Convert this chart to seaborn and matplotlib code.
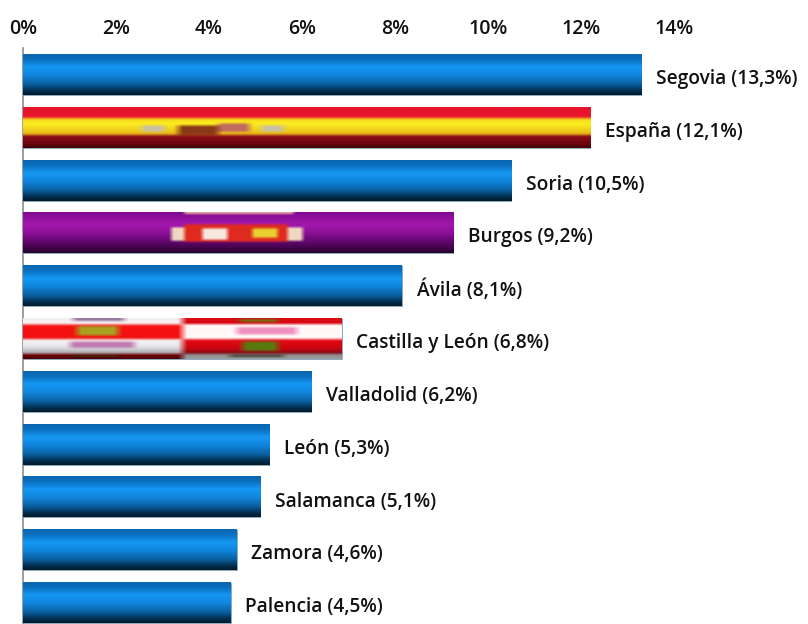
import numpy as np
import pandas as pd
import matplotlib
matplotlib.use('Agg')
import matplotlib.pyplot as plt
from matplotlib.colors import to_rgb
import seaborn as sns

# Data
regions = ['Segovia', 'España', 'Soria', 'Burgos', 'Ávila', 'Castilla y León',
           'Valladolid', 'León', 'Salamanca', 'Zamora', 'Palencia']
values = [13.3, 12.2, 10.5, 9.25, 8.15, 6.85, 6.2, 5.3, 5.1, 4.6, 4.47]
value_labels = ['13,3%', '12,1%', '10,5%', '9,2%', '8,1%', '6,8%',
                '6,2%', '5,3%', '5,1%', '4,6%', '4,5%']
x_ticks = [0, 2, 4, 6, 8, 10, 12, 14]

# Gradients, (position down the bar, colour)
BLUE = [(0, '#0a66ae'), (0.14, '#0b70bf'), (0.32, '#1598f4'), (0.52, '#1085dc'),
        (0.74, '#0a5f9e'), (0.9, '#032d4c'), (1, '#021a2c')]
SPAIN = [(0, '#e8142c'), (0.25, '#e8142c'), (0.29, '#f6d21a'), (0.4, '#fdf020'),
         (0.66, '#e8b818'), (0.7, '#8f0d18'), (0.9, '#6d0610'), (1, '#3c0208')]
PURPLE = [(0, '#7d0a8e'), (0.3, '#a418ae'), (0.5, '#8d0f98'), (0.75, '#5c0668'),
          (1, '#26022c')]
CYL_LEFT = [(0, '#f4f0f0'), (0.15, '#f8f0f0'), (0.17, '#f81010'), (0.5, '#f01010'),
            (0.53, '#f8f8f8'), (0.7, '#e4e4e8'), (0.86, '#a8a8ac'), (0.88, '#7a0008'),
            (1, '#4a0006')]
CYL_RIGHT = [(0, '#d80812'), (0.14, '#d80812'), (0.16, '#fff6f6'), (0.5, '#fffafa'),
             (0.53, '#e40a14'), (0.75, '#c80610'), (0.86, '#800810'), (0.88, '#8c8888'),
             (1, '#a0a0a0')]


def gradient(stops, rows=40):
    pos = [s[0] for s in stops]
    rgb = np.array([to_rgb(s[1]) for s in stops])
    y = (np.arange(rows) + 0.5) / rows
    return np.stack([np.interp(y, pos, rgb[:, i]) for i in range(3)], axis=1)


def paint(img, x0, x1, y0, y1, color):
    h, w = img.shape[:2]
    img[int(y0 * h):int(y1 * h), int(x0 * w):int(x1 * w)] = to_rgb(color)


def soften(img, kx=9, ky=3):
    # the flags look blurred in the original, box blur is enough
    out = img.copy()
    for c in range(3):
        out[:, :, c] = np.apply_along_axis(
            lambda r: np.convolve(np.pad(r, kx, mode='edge'), np.ones(kx) / kx, 'same')[kx:-kx], 1, out[:, :, c])
        out[:, :, c] = np.apply_along_axis(
            lambda r: np.convolve(np.pad(r, ky, mode='edge'), np.ones(ky) / ky, 'same')[ky:-ky], 0, out[:, :, c])
    return out


def bar_image(region, width_px):
    cols = int(width_px)
    if region == 'Castilla y León':
        half = int(cols * 0.5)
        left = gradient(CYL_LEFT)
        right = gradient(CYL_RIGHT)
        img = np.concatenate([np.repeat(left[:, None], half, axis=1),
                              np.repeat(right[:, None], cols - half, axis=1)], axis=1)
        # castles and lions
        paint(img, 0.17, 0.30, 0.22, 0.44, '#a8a020')
        paint(img, 0.69, 0.80, 0.58, 0.80, '#5a7a10')
        paint(img, 0.16, 0.32, 0.02, 0.08, '#9a7ca0')
        paint(img, 0.68, 0.80, 0.03, 0.10, '#7a6a10')
        paint(img, 0.15, 0.35, 0.58, 0.74, '#c07ab0')
        paint(img, 0.67, 0.86, 0.24, 0.42, '#f090c0')
        paint(img, 0.15, 0.30, 0.90, 0.96, '#3a2a08')
        paint(img, 0.65, 0.82, 0.92, 0.97, '#3a3a30')
        return soften(img)
    stops = {'España': SPAIN, 'Burgos': PURPLE}.get(region, BLUE)
    img = np.repeat(gradient(stops)[:, None], cols, axis=1)
    if region == 'España':
        paint(img, 0.21, 0.25, 0.46, 0.60, '#c8c0a8')
        paint(img, 0.275, 0.345, 0.46, 0.68, '#8a3a18')
        paint(img, 0.345, 0.40, 0.42, 0.60, '#c06a60')
        paint(img, 0.42, 0.46, 0.46, 0.60, '#c8c0a8')
        return soften(img)
    if region == 'Burgos':
        paint(img, 0.376, 0.615, 0.30, 0.73, '#e02a20')
        paint(img, 0.418, 0.476, 0.42, 0.68, '#f6e8e0')
        paint(img, 0.534, 0.592, 0.42, 0.64, '#e8d030')
        paint(img, 0.345, 0.375, 0.38, 0.70, '#f0d8c0')
        paint(img, 0.615, 0.65, 0.38, 0.70, '#f0d8c0')
        paint(img, 0.376, 0.63, 0.00, 0.05, '#e8a0a0')
        return soften(img, kx=5)
    return img


df = pd.DataFrame({'region': regions, 'value': values})

sns.set_theme(style='white')
plt.rcParams['font.family'] = ['Open Sans', 'DejaVu Sans']

fig = plt.figure(figsize=(8.08, 6.24), dpi=100)
ax = fig.add_axes([23 / 808, -5.4 / 624, 651 / 808, 581 / 624])

sns.barplot(data=df, x='value', y='region', orient='h', width=0.76,
            color='#0f82d6', edgecolor='#8fa6b8', linewidth=0.6, ax=ax)

ax.set_xlim(0, 14)
ylim = ax.get_ylim()

# gradient fill on top of each bar
for patch, region in zip(ax.patches, regions):
    x0 = patch.get_x()
    w = patch.get_width()
    y0 = patch.get_y()
    h = patch.get_height()
    ax.imshow(bar_image(region, w * 46.5), extent=[x0, x0 + w, y0 + h, y0],
              aspect='auto', interpolation='bilinear', zorder=3)

ax.set_xlim(0, 14)
ax.set_ylim(ylim)

for patch, region, label in zip(ax.patches, regions, value_labels):
    ax.annotate(f'{region} ({label})',
                xy=(patch.get_x() + patch.get_width(), patch.get_y() + patch.get_height() / 2),
                xytext=(10.5, -3), textcoords='offset points', va='center', ha='left',
                fontsize=13.8, fontweight='semibold', color='#111111',
                annotation_clip=False)

ax.xaxis.tick_top()
ax.set_xticks(x_ticks)
ax.set_xticklabels([f'{t}%' for t in x_ticks], fontsize=14, fontweight='semibold', color='#111111')
ax.tick_params(axis='x', length=0, pad=7)
ax.set_yticks([])
ax.set_xlabel('')
ax.set_ylabel('')
sns.despine(ax=ax, top=True, right=True, bottom=True, left=False)
ax.spines['left'].set_color('#8c9094')
ax.spines['left'].set_linewidth(1.2)

fig.savefig('out.png', dpi=100)
